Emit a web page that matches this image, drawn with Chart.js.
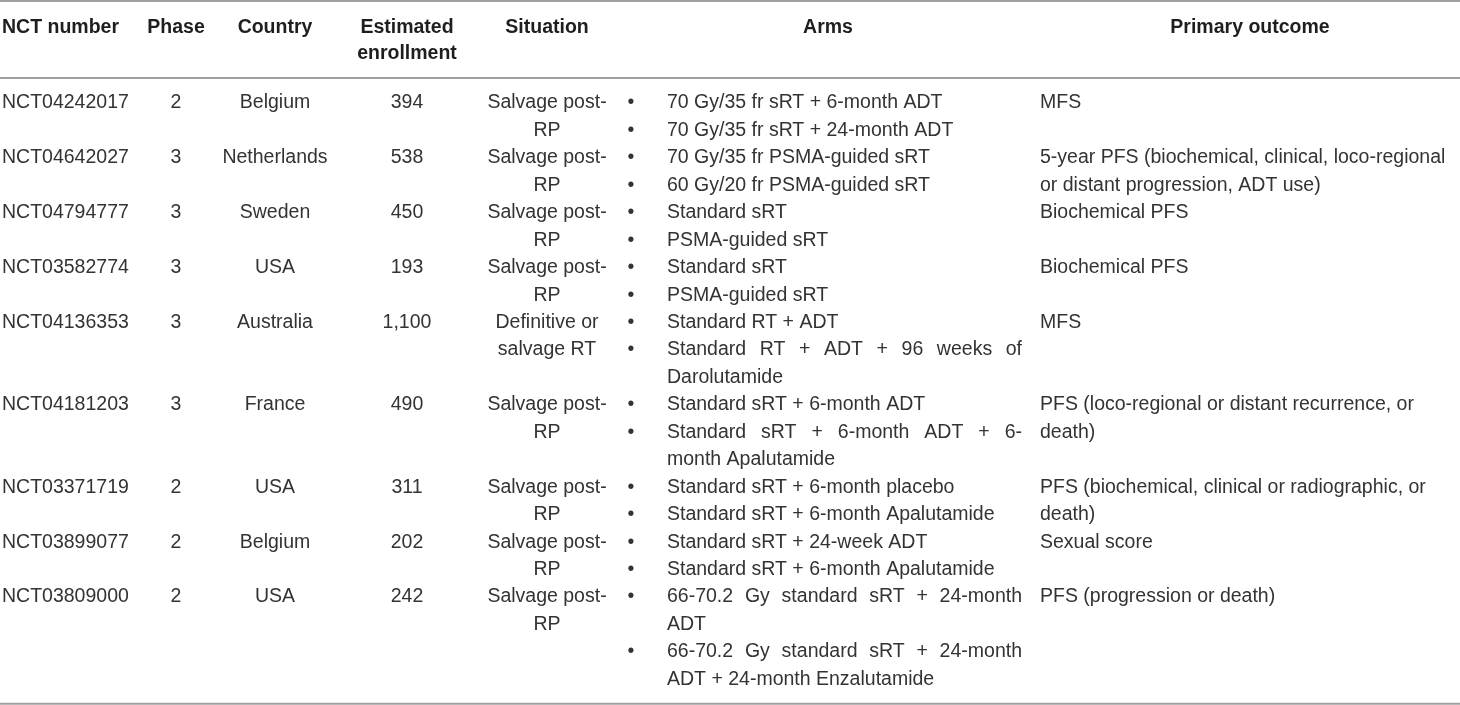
<!DOCTYPE html>
<html><head><meta charset="utf-8">
<script src="https://cdn.jsdelivr.net/npm/chart.js@4.4.1/dist/chart.umd.min.js"></script>
<style>html,body{margin:0;padding:0;background:#fff;overflow:hidden}</style>
</head><body>
<canvas id="c" width="1460" height="705" style="width:1460px;height:705px;display:block"></canvas>
<script>
// ---------- DATA ----------
const headers = ["NCT number", "Phase", "Country", ["Estimated", "enrollment"], "Situation", "Arms", "Primary outcome"];
const nctNumbers = ["NCT04242017","NCT04642027","NCT04794777","NCT03582774","NCT04136353","NCT04181203","NCT03371719","NCT03899077","NCT03809000"];
const phases = ["2","3","3","3","3","3","2","2","2"];
const countries = ["Belgium","Netherlands","Sweden","USA","Australia","France","USA","Belgium","USA"];
const enrollments = ["394","538","450","193","1,100","490","311","202","242"];
const situations = [
  ["Salvage post-","RP"],["Salvage post-","RP"],["Salvage post-","RP"],["Salvage post-","RP"],
  ["Definitive or","salvage RT"],
  ["Salvage post-","RP"],["Salvage post-","RP"],["Salvage post-","RP"],["Salvage post-","RP"]
];
const arms = [
  [["70 Gy/35 fr sRT + 6-month ADT"],["70 Gy/35 fr sRT + 24-month ADT"]],
  [["70 Gy/35 fr PSMA-guided sRT"],["60 Gy/20 fr PSMA-guided sRT"]],
  [["Standard sRT"],["PSMA-guided sRT"]],
  [["Standard sRT"],["PSMA-guided sRT"]],
  [["Standard RT + ADT"],["Standard RT + ADT + 96 weeks of","Darolutamide"]],
  [["Standard sRT + 6-month ADT"],["Standard sRT + 6-month ADT + 6-","month Apalutamide"]],
  [["Standard sRT + 6-month placebo"],["Standard sRT + 6-month Apalutamide"]],
  [["Standard sRT + 24-week ADT"],["Standard sRT + 6-month Apalutamide"]],
  [["66-70.2 Gy standard sRT + 24-month","ADT"],["66-70.2 Gy standard sRT + 24-month","ADT + 24-month Enzalutamide"]]
];
const outcomes = [
  ["MFS"],
  ["5-year PFS (biochemical, clinical, loco-regional","or distant progression, ADT use)"],
  ["Biochemical PFS"],
  ["Biochemical PFS"],
  ["MFS"],
  ["PFS (loco-regional or distant recurrence, or","death)"],
  ["PFS (biochemical, clinical or radiographic, or","death)"],
  ["Sexual score"],
  ["PFS (progression or death)"]
];

// ---------- LAYOUT ----------
const COL = {nct:2, phase:176, country:275, enroll:407, sit:547, bullet:631, armsL:667, armsR:1022, armsHdr:828, out:1040, outHdr:1250};
const HDR_LINE1 = -2.74, HDR_LINE2 = -1.8;
const RULES = [-3.72, -0.91, 21.88];
const FONT = '"Liberation Sans", Arial, Helvetica, sans-serif';
const FS = 19.5;
const TEXT_COLOR = '#333333';

// row start lines
const rowStart = [];
let acc = 0;
for (let i = 0; i < nctNumbers.length; i++) {
  rowStart.push(acc);
  const armLines = arms[i].reduce((s, a) => s + a.length, 0);
  acc += Math.max(1, situations[i].length, armLines, outcomes[i].length);
}

const tablePlugin = {
  id: 'tableText',
  afterDatasetsDraw(chart) {
    const ctx = chart.ctx, xs = chart.scales.x, ys = chart.scales.y;
    const X = v => xs.getPixelForValue(v), Y = v => ys.getPixelForValue(v);
    ctx.save();
    ctx.textBaseline = 'middle';
    const put = (t, x, y, align) => { ctx.textAlign = align; ctx.fillText(t, X(x), Y(y)); };
    // headers
    ctx.font = 'bold ' + FS + 'px ' + FONT;
    ctx.fillStyle = '#1e1e1e';
    put(headers[0], COL.nct, HDR_LINE1, 'left');
    put(headers[1], COL.phase, HDR_LINE1, 'center');
    put(headers[2], COL.country, HDR_LINE1, 'center');
    put(headers[3][0], COL.enroll, HDR_LINE1, 'center');
    put(headers[3][1], COL.enroll, HDR_LINE2, 'center');
    put(headers[4], COL.sit, HDR_LINE1, 'center');
    put(headers[5], COL.armsHdr, HDR_LINE1, 'center');
    put(headers[6], COL.outHdr, HDR_LINE1, 'center');
    // body
    ctx.font = FS + 'px ' + FONT;
    ctx.fillStyle = TEXT_COLOR;
    for (let i = 0; i < nctNumbers.length; i++) {
      const r = rowStart[i];
      put(nctNumbers[i], COL.nct, r, 'left');
      put(phases[i], COL.phase, r, 'center');
      put(countries[i], COL.country, r, 'center');
      put(enrollments[i], COL.enroll, r, 'center');
      situations[i].forEach((t, k) => put(t, COL.sit, r + k, 'center'));
      let l = r;
      arms[i].forEach(arm => {
        put('\u2022', COL.bullet, l, 'center');
        arm.forEach((t, k) => {
          if (k < arm.length - 1) {
            // justified line
            const words = t.split(' ');
            const left = X(COL.armsL), right = X(COL.armsR);
            const ww = words.map(w => ctx.measureText(w).width);
            const tot = ww.reduce((a, b) => a + b, 0);
            const gap = words.length > 1 ? (right - left - tot) / (words.length - 1) : 0;
            let x = left;
            ctx.textAlign = 'left';
            words.forEach((w, j) => { ctx.fillText(w, x, Y(l)); x += ww[j] + gap; });
          } else {
            put(t, COL.armsL, l, 'left');
          }
          l++;
        });
      });
      outcomes[i].forEach((t, k) => put(t, COL.out, r + k, 'left'));
    }
    ctx.restore();
  }
};

new Chart(document.getElementById('c'), {
  type: 'scatter',
  data: {
    datasets: RULES.map(v => ({
      data: [{x: 0, y: v}, {x: 1460, y: v}],
      showLine: true, borderColor: '#a0a0a0', borderWidth: 2,
      pointRadius: 0, clip: false
    }))
  },
  options: {
    responsive: false, animation: false, devicePixelRatio: 1,
    layout: {padding: 0},
    plugins: {legend: {display: false}, tooltip: {enabled: false}},
    scales: {
      x: {type: 'linear', display: false, min: 0, max: 1460},
      y: {type: 'linear', display: false, min: -3.752, max: 21.93, reverse: true}
    }
  },
  plugins: [tablePlugin]
});
</script>
</body></html>
